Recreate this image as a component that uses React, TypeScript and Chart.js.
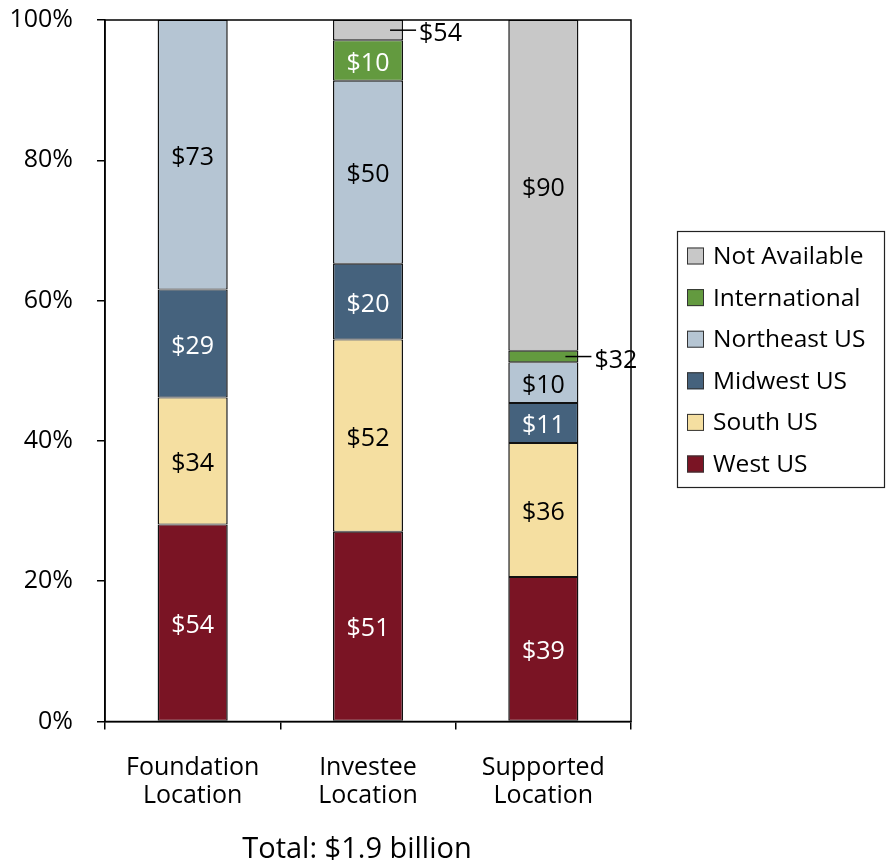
import React, { useEffect, useRef } from "react";
import { Chart, registerables } from "chart.js";

Chart.register(...registerables);

const categories: string[][] = [
  ["Foundation", "Location"],
  ["Investee", "Location"],
  ["Supported", "Location"],
];

const yTickValues = [0, 20, 40, 60, 80, 100];

// Segment shares (% of each bar)
const westPct = [28.1, 27.05, 20.6];
const southPct = [18.1, 27.4, 19.1];
const midwestPct = [15.4, 10.8, 5.7];
const northeastPct = [38.4, 26.1, 5.8];
const internationalPct = [0, 5.75, 1.65];
const notAvailablePct = [0, 2.9, 47.15];

// Dollar labels shown on the segments
const westLabels = ["$54", "$51", "$39"];
const southLabels = ["$34", "$52", "$36"];
const midwestLabels = ["$29", "$20", "$11"];
const northeastLabels = ["$73", "$50", "$10"];
const internationalLabels = ["", "$10", "$32"];
const notAvailableLabels = ["", "$54", "$90"];

const seriesNames = ["West US", "South US", "Midwest US", "Northeast US", "International", "Not Available"];
const seriesColors = ["#7A1424", "#F5DFA1", "#45627D", "#B5C5D3", "#639A3F", "#C8C8C8"];
const labelColors = ["#FFFFFF", "#000000", "#FFFFFF", "#000000", "#FFFFFF", "#000000"];

const FONT = "'Open Sans', 'Noto Sans', sans-serif";

export default function App() {
  const ref = useRef<HTMLCanvasElement | null>(null);

  useEffect(() => {
    const canvas = ref.current;
    if (!canvas) return;
    const values = [westPct, southPct, midwestPct, northeastPct, internationalPct, notAvailablePct];
    const labels = [westLabels, southLabels, midwestLabels, northeastLabels, internationalLabels, notAvailableLabels];

    const overlay = {
      id: "overlay",
      afterDatasetsDraw(chart: any) {
        const ctx = chart.ctx;
        ctx.save();
        ctx.font = `25px ${FONT}`;
        labels.forEach((set, i) => {
          const meta = chart.getDatasetMeta(i);
          meta.data.forEach((bar: any, j: number) => {
            const text = set[j];
            if (!text) return;
            const p = bar.getProps(["x", "y", "base", "width"], true);
            const top = Math.min(p.y, p.base);
            const bottom = Math.max(p.y, p.base);
            const h = bottom - top;
            const mid = (top + bottom) / 2;
            if (h < 24) {
              const right = p.x + p.width / 2;
              ctx.strokeStyle = "#000";
              ctx.lineWidth = 1.5;
              ctx.beginPath();
              ctx.moveTo(right - 13, mid);
              ctx.lineTo(right + 13, mid);
              ctx.stroke();
              ctx.fillStyle = "#000";
              ctx.textAlign = "left";
              ctx.textBaseline = "middle";
              ctx.fillText(text, right + 16, mid + 4);
            } else {
              ctx.fillStyle = labelColors[i];
              ctx.textAlign = "center";
              ctx.textBaseline = "middle";
              ctx.fillText(text, p.x, mid + 3);
            }
          });
        });
        ctx.restore();
      },
      afterDraw(chart: any) {
        const ctx = chart.ctx;
        const a = chart.chartArea;
        ctx.save();
        ctx.strokeStyle = "#000";
        ctx.lineWidth = 1.5;
        ctx.strokeRect(a.left, a.top, a.right - a.left, a.bottom - a.top);

        // legend box
        ctx.lineWidth = 1.2;
        ctx.strokeStyle = "#222";
        ctx.strokeRect(677.5, 231.5, 207, 256);
        ctx.font = `24.5px ${FONT}`;
        ctx.textAlign = "left";
        ctx.textBaseline = "middle";
        for (let k = 0; k < seriesNames.length; k++) {
          const idx = seriesNames.length - 1 - k;
          const cy = 256 + k * 41.6;
          ctx.fillStyle = seriesColors[idx];
          ctx.fillRect(687, cy - 8.5, 17, 17);
          ctx.strokeStyle = "#333";
          ctx.lineWidth = 1;
          ctx.strokeRect(687.5, cy - 8, 16, 16);
          ctx.fillStyle = "#000";
          ctx.fillText(seriesNames[idx], 713, cy + 1);
        }

        // bottom caption
        ctx.font = `29px ${FONT}`;
        ctx.textAlign = "center";
        ctx.textBaseline = "alphabetic";
        ctx.fillStyle = "#000";
        ctx.fillText("Total: $1.9 billion", 357, 858);
        ctx.restore();
      },
    };

    const chart = new Chart(canvas, {
      type: "bar",
      data: {
        labels: categories,
        datasets: values.map((v, i) => ({
          label: seriesNames[i],
          data: v,
          backgroundColor: seriesColors[i],
          borderColor: "#111111",
          borderWidth: { left: 1.5, right: 1.5, top: 1, bottom: 1 },
          borderSkipped: false,
          barPercentage: 0.4,
          categoryPercentage: 1,
        })),
      },
      options: {
        responsive: false,
        animation: false,
        devicePixelRatio: 1,
        layout: { padding: { left: 0, top: 20, right: 255, bottom: 0 } },
        plugins: { legend: { display: false }, tooltip: { enabled: false }, title: { display: false } },
        scales: {
          x: {
            stacked: true,
            grid: { drawOnChartArea: false, drawTicks: true, tickLength: 8, color: "#000", lineWidth: 1.5, offset: true },
            border: { display: true, color: "#000", width: 1.5 },
            ticks: { color: "#000", font: { family: FONT, size: 25, lineHeight: 1.14 }, padding: 24, maxRotation: 0 },
            afterFit: (s: any) => {
              s.height = 138.5;
            },
          },
          y: {
            stacked: true,
            min: 0,
            max: 100,
            afterBuildTicks: (s: any) => {
              s.ticks = yTickValues.map((v) => ({ value: v }));
            },
            grid: { drawOnChartArea: false, drawTicks: true, tickLength: 8, color: "#000", lineWidth: 1.5 },
            border: { display: true, color: "#000", width: 1.5 },
            ticks: {
              color: "#000",
              font: { family: FONT, size: 25 },
              padding: 24,
              callback: (v: any) => `${v}%`,
            },
            afterFit: (s: any) => {
              s.width = 105;
              s.paddingTop = 0;
            },
          },
        },
      },
      plugins: [overlay],
    });
    return () => chart.destroy();
  }, []);

  return (
    <div style={{ position: "fixed", left: 0, top: 0, width: 886, height: 860, background: "#fff" }}>
      <canvas ref={ref} width={886} height={860} style={{ width: 886, height: 860, display: "block" }} />
    </div>
  );
}
